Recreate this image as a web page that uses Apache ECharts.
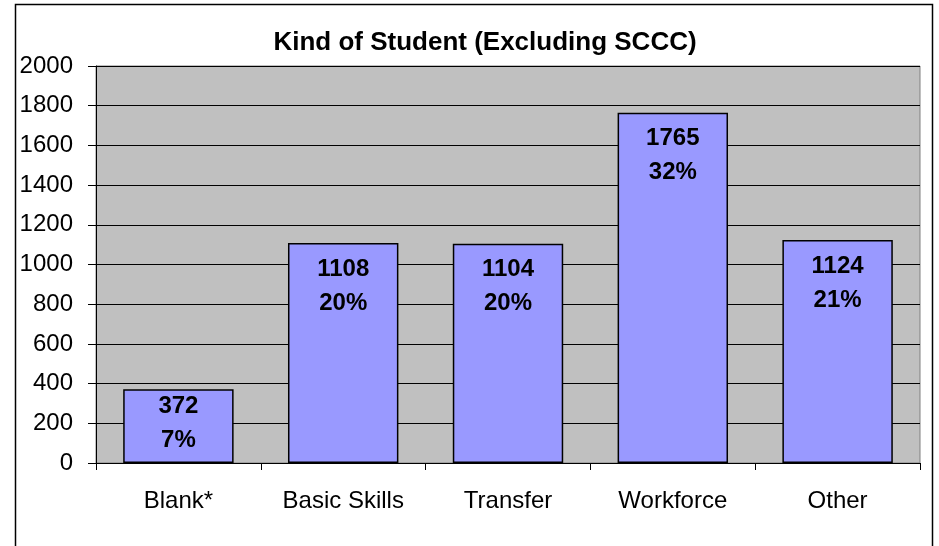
<!DOCTYPE html>
<html lang="en">
<head>
<meta charset="UTF-8">
<title>Kind of Student</title>
<script src="https://cdn.jsdelivr.net/npm/echarts@6/dist/echarts.min.js"></script>
<style>
  html, body { margin: 0; padding: 0; background: #fff; }
  #main { width: 939px; height: 546px; }
</style>
</head>
<body>
<div id="main"></div>
<script>
// data
var categories = ['Blank*', 'Basic Skills', 'Transfer', 'Workforce', 'Other'];
var counts = [372, 1108, 1104, 1765, 1124];
var percents = ['7%', '20%', '20%', '32%', '21%'];
var yTicks = [0, 200, 400, 600, 800, 1000, 1200, 1400, 1600, 1800, 2000];

var myChart = echarts.init(document.getElementById('main'));

// the short bar has its label pushed up against the top edge
var barData = counts.map(function (v, i) {
    return { value: v, label: { distance: v < 500 ? 0 : 9 } };
});

var option = {
    animation: false,
    title: {
        text: 'Kind of Student (Excluding SCCC)',
        left: 480,
        textAlign: 'center',
        top: 25,
        textStyle: { fontFamily: 'Arial, Liberation Sans', fontSize: 26, fontWeight: 'bold', color: '#000' }
    },
    // outer frame of the chart
    graphic: [{
        type: 'rect',
        shape: { x: 15.5, y: 4.5, width: 917, height: 600 },
        style: { fill: 'none', stroke: '#000', lineWidth: 1.5 },
        silent: true
    }],
    grid: {
        left: 96, top: 66, right: 19, bottom: 83,
        show: true,
        backgroundColor: '#c0c0c0',
        borderColor: '#808080',
        borderWidth: 1
    },
    xAxis: {
        type: 'category',
        data: categories,
        axisLine: { lineStyle: { color: '#000', width: 1 } },
        axisTick: { show: true, length: 7, lineStyle: { color: '#000' } },
        axisLabel: { margin: 26, fontFamily: 'Arial, Liberation Sans', fontSize: 24, color: '#000' }
    },
    yAxis: {
        type: 'value',
        min: yTicks[0],
        max: yTicks[yTicks.length - 1],
        interval: 200,
        axisLine: { show: true, lineStyle: { color: '#000', width: 1 } },
        axisTick: { show: true, length: 8, lineStyle: { color: '#000' } },
        axisLabel: {
            margin: 23,
            fontFamily: 'Arial, Liberation Sans',
            fontSize: 24,
            color: '#000',
            formatter: function (v) { return String(v); }
        },
        splitLine: { lineStyle: { color: '#000', width: 1 } }
    },
    series: [{
        type: 'bar',
        data: barData,
        barWidth: '67%',
        itemStyle: { color: '#9999ff', borderColor: '#000', borderWidth: 1.5 },
        label: {
            show: true,
            position: 'insideTop',
            fontFamily: 'Arial, Liberation Sans',
            fontSize: 24,
            fontWeight: 'bold',
            color: '#000',
            lineHeight: 34,
            formatter: function (p) { return p.value + '\n' + percents[p.dataIndex]; }
        }
    }]
};
myChart.setOption(option);
</script>
</body>
</html>
